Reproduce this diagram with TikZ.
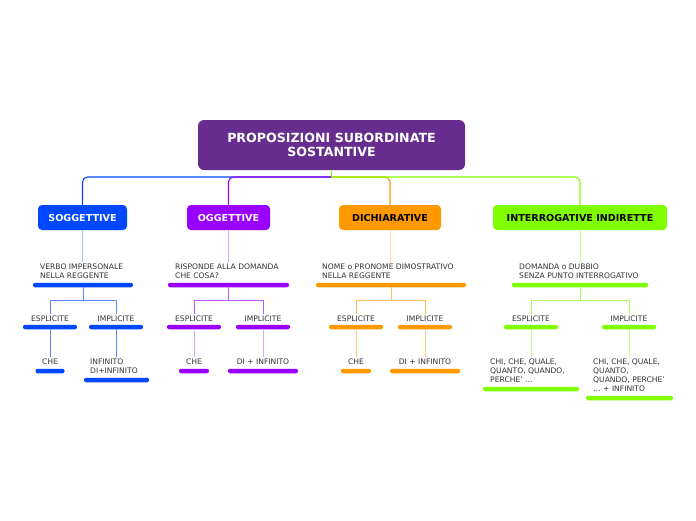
\documentclass[tikz,border=0pt]{standalone}
\usepackage{fontspec}
\setmainfont{DejaVu Sans}
\usepackage{xcolor}
\usepackage{tikz}
\usetikzlibrary{positioning}
\definecolor{Viola}{HTML}{662D8F}
\definecolor{Blu}{HTML}{0048FF}
\definecolor{Porpora}{HTML}{9900FF}
\definecolor{Arancio}{HTML}{FF9900}
\definecolor{Verde}{HTML}{80FF00}
\definecolor{Testo}{HTML}{333333}

\begin{document}
\begin{tikzpicture}[x=1pt, y=-1pt,
	titolo/.style={fill=Viola, text=white, rounded corners=6pt, align=center, minimum width=267, minimum height=50, font=\bfseries\fontsize{12.6}{14.5}\selectfont},
	tipo/.style={rounded corners=4pt, minimum height=25, inner sep=0pt, font=\bfseries\fontsize{9.6}{11}\selectfont},
	voce/.style={text=Testo, align=left, inner sep=2pt, font=\fontsize{7.6}{9}\selectfont},
	barra/.style={rounded corners=2pt, minimum height=4.5, inner sep=0pt},
	ramo/.style={line width=1.1pt, rounded corners=5pt},
	filo/.style={line width=0.8pt}]
	\useasboundingbox (0,0) rectangle (696,520);
	\node[titolo] (Titolo) at (331.5,145) {PROPOSIZIONI SUBORDINATE\\SOSTANTIVE};
	\coordinate (Nodo) at (331.5,177);
	\node[tipo, fill=Blu, text=white, minimum width=89] (Soggettive) at (82.5,217.5) {SOGGETTIVE};
	\node[tipo, fill=Porpora, text=white, minimum width=83] (Oggettive) at (228.5,217.5) {OGGETTIVE};
	\node[tipo, fill=Arancio, text=black, minimum width=102] (Dichiarative) at (390,217.5) {DICHIARATIVE};
	\node[tipo, fill=Verde, text=black, minimum width=174] (Interrogative) at (580,217.5) {INTERROGATIVE INDIRETTE};
	\node[voce, anchor=north west] (Verbo) at (38,262) {VERBO IMPERSONALE\\NELLA REGGENTE};
	\node[voce, anchor=north west] (Risponde) at (173,262) {RISPONDE ALLA DOMANDA\\CHE COSA?};
	\node[voce, anchor=north west] (Nome) at (320,262) {NOME o PRONOME DIMOSTRATIVO\\NELLA REGGENTE};
	\node[voce, anchor=north west] (Domanda) at (517,262) {DOMANDA o DUBBIO\\SENZA PUNTO INTERROGATIVO};
	\node[barra, fill=Blu, minimum width=100] (Verbo bar) at (83,285) {};
	\node[barra, fill=Porpora, minimum width=121] (Risponde bar) at (228.5,285) {};
	\node[barra, fill=Arancio, minimum width=150] (Nome bar) at (391,285) {};
	\node[barra, fill=Verde, minimum width=136] (Domanda bar) at (580,285) {};
	\node[voce] (Espl S) at (50,319) {ESPLICITE};
	\node[voce] (Impl S) at (116,319) {IMPLICITE};
	\node[voce] (Espl O) at (194,319) {ESPLICITE};
	\node[voce] (Impl O) at (263,319) {IMPLICITE};
	\node[voce] (Espl D) at (356,319) {ESPLICITE};
	\node[voce] (Impl D) at (425,319) {IMPLICITE};
	\node[voce] (Espl I) at (531,319) {ESPLICITE};
	\node[voce] (Impl I) at (629,319) {IMPLICITE};
	\node[barra, fill=Blu, minimum width=54] (Espl S bar) at (50,327) {};
	\node[barra, fill=Blu, minimum width=54] (Impl S bar) at (116,327) {};
	\node[barra, fill=Porpora, minimum width=54] (Espl O bar) at (194,327) {};
	\node[barra, fill=Porpora, minimum width=54] (Impl O bar) at (263,327) {};
	\node[barra, fill=Arancio, minimum width=54] (Espl D bar) at (356,327) {};
	\node[barra, fill=Arancio, minimum width=54] (Impl D bar) at (425,327) {};
	\node[barra, fill=Verde, minimum width=54] (Espl I bar) at (531,327) {};
	\node[barra, fill=Verde, minimum width=54] (Impl I bar) at (629,327) {};
	\node[voce] (Che S) at (50,362) {CHE};
	\node[voce, anchor=north west] (Infinito S) at (88,357) {INFINITO\\DI+INFINITO};
	\node[voce] (Che O) at (194,362) {CHE};
	\node[voce] (Di O) at (263,362) {DI + INFINITO};
	\node[voce] (Che D) at (356,362) {CHE};
	\node[voce] (Di D) at (425,362) {DI + INFINITO};
	\node[voce, anchor=north west] (Chi I) at (488,357) {CHI, CHE, QUALE,\\QUANTO, QUANDO,\\PERCHE' \dots};
	\node[voce, anchor=north west] (Chi Inf) at (591,357) {CHI, CHE, QUALE,\\QUANTO,\\QUANDO, PERCHE'\\\dots{} + INFINITO};
	\node[barra, fill=Blu, minimum width=29] (Che S bar) at (50,371) {};
	\node[barra, fill=Blu, minimum width=65] (Infinito S bar) at (116.5,380) {};
	\node[barra, fill=Porpora, minimum width=30] (Che O bar) at (194,371) {};
	\node[barra, fill=Porpora, minimum width=70] (Di O bar) at (263,371) {};
	\node[barra, fill=Arancio, minimum width=30] (Che D bar) at (356,371) {};
	\node[barra, fill=Arancio, minimum width=70] (Di D bar) at (425,371) {};
	\node[barra, fill=Verde, minimum width=96] (Chi I bar) at (531,389) {};
	\node[barra, fill=Verde, minimum width=87] (Chi Inf bar) at (629.5,398) {};
	\draw[ramo, Blu] (Nodo) -| (Soggettive);
	\draw[ramo, Porpora] (Nodo) -| (Oggettive);
	\draw[ramo, Arancio] (Nodo) -| (Dichiarative);
	\draw[ramo, Verde] (Nodo) -| (Interrogative);
	\draw[ramo, Verde] (Titolo) -- (Nodo);
	\draw[filo, Blu!35] (Soggettive) -- (Soggettive |- Verbo.north);
	\draw[filo, Porpora!35] (Oggettive) -- (Oggettive |- Risponde.north);
	\draw[filo, Arancio!35] (Dichiarative) -- (Dichiarative |- Nome.north);
	\draw[filo, Verde!45] (Interrogative) -- (Interrogative |- Domanda.north);
	\draw[filo, Blu!65] (Verbo bar) -- ++(0,15) -| (Espl S);
	\draw[filo, Blu!65] (Verbo bar) -- ++(0,15) -| (Impl S);
	\draw[filo, Porpora!65] (Risponde bar) -- ++(0,15) -| (Espl O);
	\draw[filo, Porpora!65] (Risponde bar) -- ++(0,15) -| (Impl O);
	\draw[filo, Arancio!65] (Nome bar) -- ++(0,15) -| (Espl D);
	\draw[filo, Arancio!65] (Nome bar) -- ++(0,15) -| (Impl D);
	\draw[filo, Verde!65] (Domanda bar) -- ++(0,15) -| (Espl I);
	\draw[filo, Verde!65] (Domanda bar) -- ++(0,15) -| (Impl I);
	\draw[filo, Blu!65] (Espl S bar) -- (Che S);
	\draw[filo, Blu!65] (Impl S bar) -- (Impl S bar |- Infinito S.north);
	\draw[filo, Porpora!35] (Espl O bar) -- (Che O);
	\draw[filo, Porpora!35] (Impl O bar) -- (Di O);
	\draw[filo, Arancio!50] (Espl D bar) -- (Che D);
	\draw[filo, Arancio!50] (Impl D bar) -- (Di D);
	\draw[filo, Verde!50] (Espl I bar) -- (Espl I bar |- Chi I.north);
	\draw[filo, Verde!50] (Impl I bar) -- (Impl I bar |- Chi Inf.north);
\end{tikzpicture}
\end{document}
